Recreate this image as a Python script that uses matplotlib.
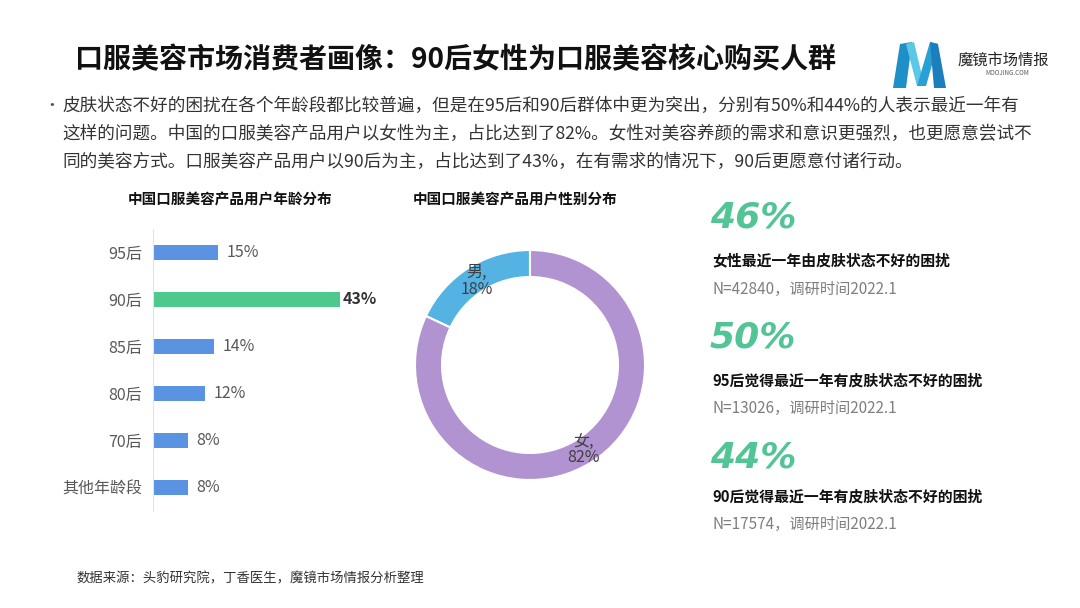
import matplotlib
matplotlib.use("Agg")
import matplotlib.pyplot as plt
import numpy as np
from matplotlib.patches import Polygon

plt.rcParams["font.family"] = ["Noto Sans CJK SC", "DejaVu Sans"]

# ---- data ----
age_groups = ["95后", "90后", "85后", "80后", "70后", "其他年龄段"]
age_share = [15, 43, 14, 12, 8, 8]

gender_labels = ["男", "女"]
gender_share = [18, 82]

stat_values = ["46%", "50%", "44%"]
stat_titles = [
    "女性最近一年由皮肤状态不好的困扰",
    "95后觉得最近一年有皮肤状态不好的困扰",
    "90后觉得最近一年有皮肤状态不好的困扰",
]
stat_notes = [
    "N=42840，调研时间2022.1",
    "N=13026，调研时间2022.1",
    "N=17574，调研时间2022.1",
]

title = "口服美容市场消费者画像：90后女性为口服美容核心购买人群"
body_lines = [
    "皮肤状态不好的困扰在各个年龄段都比较普遍，但是在95后和90后群体中更为突出，分别有50%和44%的人表示最近一年有",
    "这样的问题。中国的口服美容产品用户以女性为主，占比达到了82%。女性对美容养颜的需求和意识更强烈，也更愿意尝试不",
    "同的美容方式。口服美容产品用户以90后为主，占比达到了43%，在有需求的情况下，90后更愿意付诸行动。",
]
source = "数据来源：头豹研究院，丁香医生，魔镜市场情报分析整理"

BLUE = "#5B93E3"
GREEN = "#4DC98D"
PURPLE = "#B193D1"
SKY = "#55B3E4"
TEXT_GREEN = "#52C496"

W, H = 1080, 608
fig = plt.figure(figsize=(W / 100, H / 100), dpi=100)
fig.patch.set_facecolor("white")

# background axes in pixel coordinates for free text
bg = fig.add_axes([0, 0, 1, 1])
bg.set_xlim(0, W)
bg.set_ylim(H, 0)
bg.axis("off")

bg.text(75, 60, title, fontsize=20.2, fontweight="bold", color="#111111",
        va="center", ha="left")

# logo
logo_parts = [
    ([(893, 88), (900, 44), (912, 42), (906, 88)], "#1F8FC8"),
    ([(906, 44), (914, 42), (924, 84), (917, 86)], "#5CC8E8"),
    ([(917, 86), (930, 42), (938, 44), (926, 86)], "#2A9FD4"),
    ([(930, 42), (938, 44), (946, 88), (934, 88)], "#1B7FBE"),
]
for pts, col in logo_parts:
    bg.add_patch(Polygon(pts, closed=True, facecolor=col, edgecolor="none"))
bg.text(958, 60, "魔镜市场情报", fontsize=11, color="#222222", va="center")
bg.text(985, 73, "MOOJING.COM", fontsize=4.5, color="#555555", va="center")

# bullet text
bg.text(43, 106, "•", fontsize=12, color="#555555", va="center")
for i, line in enumerate(body_lines):
    bg.text(62, 106 + 28 * i, line, fontsize=12.7, color="#333333", va="center")

# subtitles
bg.text(230, 199, "中国口服美容产品用户年龄分布", fontsize=10.5, fontweight="bold",
        color="#111111", ha="center", va="center")
bg.text(515, 199, "中国口服美容产品用户性别分布", fontsize=10.5, fontweight="bold",
        color="#111111", ha="center", va="center")

# ---- bar chart ----
ax = fig.add_axes([153 / W, (H - 511) / H, 218 / W, 282 / H])
y = np.arange(len(age_groups))
colors = [GREEN if v == max(age_share) else BLUE for v in age_share]
ax.barh(y, age_share, height=0.34, color=colors)
ax.set_xlim(0, 50)
ax.set_ylim(len(age_groups) - 0.5, -0.5)
ax.set_yticks(y)
ax.set_yticklabels(age_groups, fontsize=11.5, color="#595959")
ax.tick_params(axis="y", length=0, pad=8)
ax.set_xticks([])
for s in ["top", "right", "bottom"]:
    ax.spines[s].set_visible(False)
ax.spines["left"].set_color("#E3E3E3")
for i, v in enumerate(age_share):
    top = v == max(age_share)
    ax.text(v + (0.4 if top else 2), i, f"{v}%", va="center", ha="left",
            fontsize=11.5, color="#333333" if top else "#595959",
            fontweight="bold" if top else "normal")

# ---- donut ----
ax2 = fig.add_axes([392 / W, (H - 365 - 138) / H, 276 / W, 276 / H])
wedges, texts = ax2.pie(
    gender_share,
    labels=[f"{n},\n{v}%" for n, v in zip(gender_labels, gender_share)],
    colors=[SKY, PURPLE],
    startangle=90,
    counterclock=True,
    labeldistance=0.87,
    wedgeprops=dict(width=0.235, edgecolor="white", linewidth=1.5),
    textprops=dict(fontsize=11.5, color="#404040"),
)
for t in texts:
    t.set_ha("center")
    t.set_va("center")
    t.set_linespacing(1.0)
ax2.set_xlim(-1.2, 1.2)
ax2.set_ylim(-1.2, 1.2)
ax2.set_aspect("equal")
ax2.axis("off")

# ---- right side stats ----
value_y = [217, 338, 457]
title_y = [260, 381, 497]
note_y = [289, 408, 524]
for v, t, n, vy, ty, ny in zip(stat_values, stat_titles, stat_notes,
                               value_y, title_y, note_y):
    bg.text(710, vy, v, fontsize=26, fontstyle="oblique", fontweight="bold",
            color=TEXT_GREEN, family="DejaVu Sans", va="center", ha="left")
    bg.text(712, ty, t, fontsize=10.7, fontweight="bold", color="#111111",
            va="center", ha="left")
    bg.text(712, ny, n, fontsize=11, color="#7F7F7F", va="center", ha="left")

bg.text(77, 578, source, fontsize=9.6, color="#333333", va="center", ha="left")

fig.savefig("out.png", dpi=100, facecolor="white")
